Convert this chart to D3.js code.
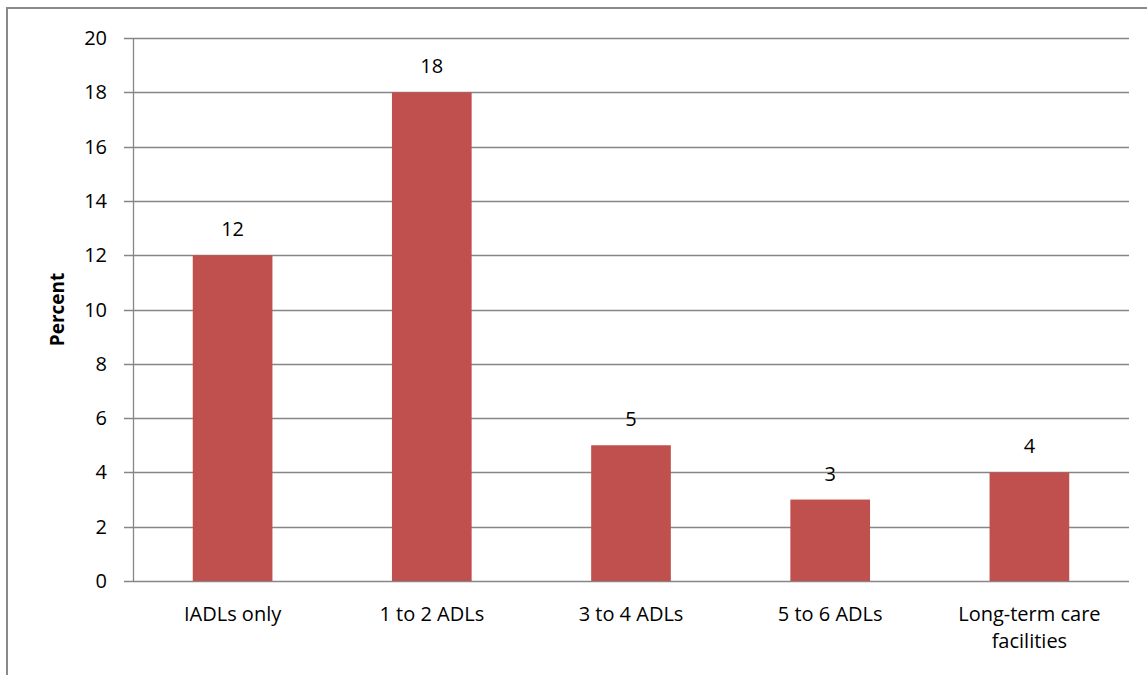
<!DOCTYPE html>
<html>
<head>
<meta charset="utf-8">
<script src="https://cdn.jsdelivr.net/npm/d3@7"></script>
<style>
  html, body { margin: 0; padding: 0; background: #fff; overflow: hidden; }
  svg { display: block; font-family: "Open Sans", "Noto Sans", sans-serif; }
</style>
</head>
<body>
<script>
// chart values
const categories = ["IADLs only", "1 to 2 ADLs", "3 to 4 ADLs", "5 to 6 ADLs", "Long-term care facilities"];
const percents = [12, 18, 5, 3, 4];
const yTicks = [0, 2, 4, 6, 8, 10, 12, 14, 16, 18, 20];
const yLabel = "Percent";

const width = 1147, height = 675;
const margin = {top: 38, right: 18, bottom: 94, left: 133};
const fs = "20px";

const svg = d3.select("body").append("svg")
    .attr("width", width)
    .attr("height", height);

// outer chart border, drawn as two filled strips (top and left)
svg.append("rect")
    .attr("x", 6).attr("y", 7)
    .attr("width", width - 6).attr("height", 2)
    .attr("fill", "#8a8a8a");
svg.append("rect")
    .attr("x", 6).attr("y", 7)
    .attr("width", 2).attr("height", height - 7)
    .attr("fill", "#8a8a8a");

const x = d3.scaleBand()
    .domain(categories)
    .range([margin.left, width - margin.right])
    .padding(0);

const y = d3.scaleLinear()
    .domain([0, 20])
    .range([height - margin.bottom, margin.top]);

// gridlines
svg.append("g")
    .selectAll("line")
    .data(yTicks)
    .join("line")
    .attr("x1", margin.left - 9)
    .attr("x2", width - margin.right)
    .attr("y1", d => Math.round(y(d)) + 0.5)
    .attr("y2", d => Math.round(y(d)) + 0.5)
    .attr("stroke", "#868686")
    .attr("stroke-width", 1.3);

// y axis line
svg.append("line")
    .attr("x1", margin.left + 0.5)
    .attr("x2", margin.left + 0.5)
    .attr("y1", y(20))
    .attr("y2", y(0))
    .attr("stroke", "#868686")
    .attr("stroke-width", 1.3);

// y tick labels
svg.append("g")
    .selectAll("text")
    .data(yTicks)
    .join("text")
    .attr("x", margin.left - 26)
    .attr("y", d => y(d))
    .attr("dy", "0.35em")
    .attr("text-anchor", "end")
    .style("font-size", fs)
    .attr("fill", "#000")
    .text(d => d);

// y axis title
svg.append("text")
    .attr("transform", `translate(57,${(y(0) + y(20)) / 2}) rotate(-90)`)
    .attr("dy", "0.35em")
    .attr("text-anchor", "middle")
    .style("font-size", "19px")
    .style("font-weight", "bold")
    .text(yLabel);

// bars
const barW = x.bandwidth() * 0.4;
svg.append("g")
    .selectAll("rect")
    .data(percents)
    .join("rect")
    .attr("x", (d, i) => x(categories[i]) + (x.bandwidth() - barW) / 2)
    .attr("y", d => y(d))
    .attr("width", barW)
    .attr("height", d => y(0) - y(d))
    .attr("fill", "#C0504D");

// value labels
svg.append("g")
    .selectAll("text")
    .data(percents)
    .join("text")
    .attr("x", (d, i) => x(categories[i]) + x.bandwidth() / 2)
    .attr("y", d => y(d) - 19)
    .attr("text-anchor", "middle")
    .style("font-size", fs)
    .text(d => d);

// category labels (wrap long one onto two lines)
const catG = svg.append("g")
    .selectAll("text")
    .data(categories)
    .join("text")
    .attr("x", d => x(d) + x.bandwidth() / 2)
    .attr("y", y(0) + 40)
    .attr("text-anchor", "middle")
    .style("font-size", fs);

catG.each(function (d) {
    const lines = d === "Long-term care facilities" ? ["Long-term care", "facilities"] : [d];
    d3.select(this).selectAll("tspan")
        .data(lines)
        .join("tspan")
        .attr("x", x(d) + x.bandwidth() / 2)
        .attr("dy", (l, i) => i ? 27 : 0)
        .text(l => l);
});
</script>
</body>
</html>
